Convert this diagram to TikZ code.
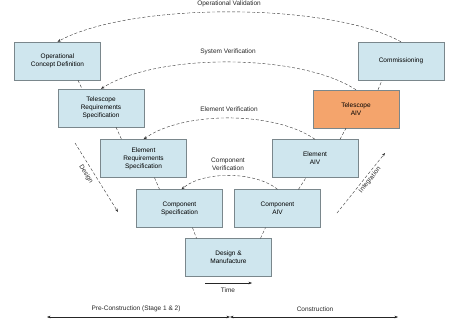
\documentclass[tikz,border=0pt]{standalone}
\usepackage{fontspec}
\setmainfont{Liberation Sans}
\usetikzlibrary{arrows.meta,calc}
\definecolor{vblue}{HTML}{CFE6EE}
\definecolor{vorange}{HTML}{F4A46C}
\definecolor{vedge}{HTML}{7A878C}

\begin{document}
\begin{tikzpicture}[x=1pt,y=-1pt,>={Stealth[length=3.5pt,width=2.6pt]},
  font=\fontsize{6.5}{8}\selectfont,
  box/.style={draw=vedge,fill=vblue,minimum width=86pt,minimum height=38pt,align=center,inner sep=2pt},
  ver/.style={densely dashed,->,black!80},
  link/.style={densely dashed,black!80},
  lab/.style={inner sep=1pt,align=center,text=black!85}]
\path[use as bounding box] (0,0) rectangle (452,325);

%% the V: specification side, then integration side
\node[box] (opcon) at (57.5,61) {Operational\\Concept Definition};
\node[box] (telreq) at (101,108) {Telescope\\Requirements\\Specification};
\node[box] (elemreq) at (143.5,158.5) {Element\\Requirements\\Specification};
\node[box] (compspec) at (179.5,208.5) {Component\\Specification};
\node[box] (design) at (228.5,257.5) {Design \&\\Manufacture};
\node[box] (compaiv) at (277.5,208.5) {Component\\AIV};
\node[box] (elemaiv) at (315,158.5) {Element\\AIV};
\node[box,fill=vorange] (telaiv) at (356,109) {Telescope\\AIV};
\node[box] (comm) at (401,61) {Commissioning};

%% links down and up the V
\draw[link] ($(opcon.south)+(20.5,0)$) -- ($(telreq.north)+(-19,0)$);
\draw[link] ($(telreq.south)+(15,0)$) -- ($(elemreq.north)+(-22,0)$);
\draw[link] ($(elemreq.south)+(11,0)$) -- ($(compspec.north)+(-20,0)$);
\draw[link] ($(compspec.south)+(13,0)$) -- ($(design.north)+(-32,0)$);
\draw[link] ($(design.north)+(32,0)$) -- ($(compaiv.south)+(-12,0)$);
\draw[link] ($(compaiv.north)+(21,0)$) -- ($(elemaiv.south)+(-9,0)$);
\draw[link] ($(elemaiv.north)+(25,0)$) -- ($(telaiv.south)+(-10,0)$);
\draw[link] ($(telaiv.north)+(22,0)$) -- ($(comm.south)+(-19,0)$);

%% verification arcs
\draw[ver] (comm.north) .. controls (330,2) and (130,2) .. (opcon.north);
\node[lab] (opval) at (229,4) {Operational Validation};
\draw[ver] (telaiv.north) .. controls (300,53) and (157,53) .. (telreq.north);
\node[lab] (sysver) at (228,52) {System Verification};
\draw[ver] (elemaiv.north) .. controls (275,111) and (183,111) .. (elemreq.north);
\node[lab] (elemver) at (229,109) {Element Verification};
\draw[ver] (compaiv.north) .. controls (255,171) and (203,171) .. ($(compspec.north)+(2,0)$);
\node[lab] (compver) at (228,164) {Component\\Verification};

%% design and integration legs
\coordinate (dtop) at (75,143);
\coordinate (dbot) at (118,212);
\draw[ver] (dtop) -- (dbot);
\node[lab,rotate=-58] (dlab) at (86,174) {Design};
\coordinate (ibot) at (337,213);
\coordinate (itop) at (385,153);
\draw[ver] (ibot) -- (itop);
\node[lab,rotate=51] (ilab) at (370,180) {Integration};

%% time and stages
\coordinate (tl) at (205,283);
\coordinate (tr) at (252,283);
\draw[->,black!85] (tl) -- (tr);
\node[lab] (time) at (228,290) {Time};
\coordinate (pl) at (47,317);
\coordinate (pm) at (230,317);
\coordinate (pr) at (398,317);
\draw[<->,black!85] (pl) -- (pm);
\draw[<->,black!85] (pm) -- (pr);
\node[lab] (precon) at (136,309) {Pre-Construction (Stage 1 \& 2)};
\node[lab] (con) at (315,309) {Construction};
\end{tikzpicture}
\end{document}
